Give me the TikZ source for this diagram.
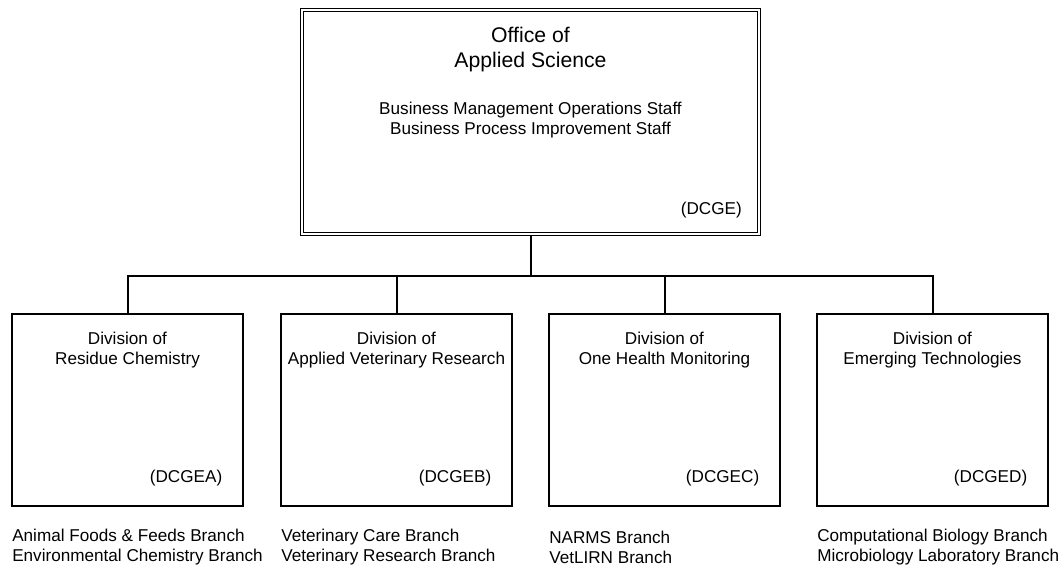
\documentclass[tikz,border=0pt]{standalone}
\usepackage{fontspec}
\setmainfont{Liberation Sans}
\begin{document}
\begin{tikzpicture}[x=0.75pt,y=-0.75pt,
  divbox/.style={draw,line width=1.5pt,minimum width=173.25pt,minimum height=144pt,inner sep=0pt},
  topbox/.style={draw,double,line width=0.8pt,double distance=1.6pt,minimum width=343pt,minimum height=168pt,inner sep=0pt},
  titletext/.style={align=center,inner sep=0pt,font=\fontsize{12.85}{15}\selectfont},
  bigtext/.style={align=center,inner sep=0pt,font=\fontsize{15.9}{18.75}\selectfont},
  codetext/.style={anchor=east,inner sep=0pt,font=\fontsize{12.85}{15}\selectfont},
  branchtext/.style={anchor=west,align=left,inner sep=0pt,font=\fontsize{12.85}{15}\selectfont},
  conn/.style={line width=1.5pt}]
\useasboundingbox (0,0) rectangle (1063,569);
% top box
\node[topbox] (ofc) at (530.5,122) {};
\node[bigtext] (ofct) at (530.5,49.5) {Office of\\Applied Science};
\node[titletext] (ofcs) at (530.5,120.5) {Business Management Operations Staff\\Business Process Improvement Staff};
\node[codetext] (ofcc) at (742,210) {(DCGE)};
% division boxes
\node[divbox] (da) at (127.5,410) {};
\node[divbox] (db) at (396.5,410) {};
\node[divbox] (dc) at (664.5,410) {};
\node[divbox] (dd) at (932.5,410) {};
\node[titletext] (dat) at (127.5,350) {Division of\\Residue Chemistry};
\node[titletext] (dbt) at (396.5,350) {Division of\\Applied Veterinary Research};
\node[titletext] (dct) at (664.5,350) {Division of\\One Health Monitoring};
\node[titletext] (ddt) at (932.5,350) {Division of\\Emerging Technologies};
\node[codetext] (dac) at (222.5,478) {(DCGEA)};
\node[codetext] (dbc) at (491.5,478) {(DCGEB)};
\node[codetext] (dcc) at (759.5,478) {(DCGEC)};
\node[codetext] (ddc) at (1027.5,478) {(DCGED)};
\node[branchtext] (dab) at (12,547) {Animal Foods \& Feeds Branch\\Environmental Chemistry Branch};
\node[branchtext] (dbb) at (281,547) {Veterinary Care Branch\\Veterinary Research Branch};
\node[branchtext] (dcb) at (549,547) {NARMS Branch\\VetLIRN Branch};
\node[branchtext] (ddb) at (817,547) {Computational Biology Branch\\Microbiology Laboratory Branch};
% connectors
\coordinate (hub) at (530.5,276);
\draw[conn] (ofc.south) -- (hub);
\draw[conn] (da.north) -- (da.north |- hub) -- (dd.north |- hub) -- (dd.north);
\draw[conn] (db.north) -- (db.north |- hub);
\draw[conn] (dc.north) -- (dc.north |- hub);
\end{tikzpicture}
\end{document}
